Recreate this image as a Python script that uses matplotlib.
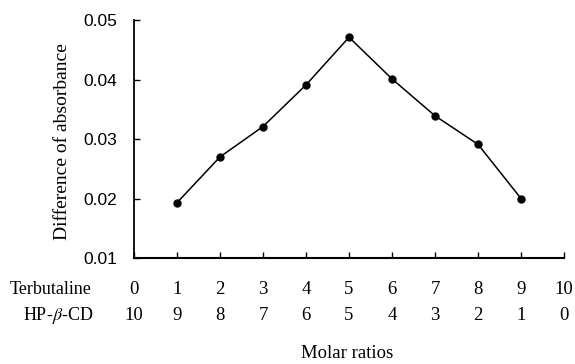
import matplotlib
matplotlib.use("Agg")
import matplotlib.pyplot as plt
import matplotlib.transforms as mtransforms

# data
terbutaline = [0, 1, 2, 3, 4, 5, 6, 7, 8, 9, 10]
hp_cd = [10, 9, 8, 7, 6, 5, 4, 3, 2, 1, 0]
x_pts = [1, 2, 3, 4, 5, 6, 7, 8, 9]
absorb_diff = [0.0193, 0.0270, 0.0321, 0.0391, 0.0471, 0.0401, 0.0339, 0.0291, 0.0200]
y_ticks = [0.01, 0.02, 0.03, 0.04, 0.05]

fig = plt.figure(figsize=(5.75, 3.64), dpi=100)
ax = fig.add_axes([0.233, 0.291, 0.748, 0.654])

ax.plot(x_pts, absorb_diff, color='black', linewidth=1.1, marker='o', markersize=5)

ax.set_xlim(0, 10)
ax.set_ylim(0.01, 0.05)
ax.set_yticks(y_ticks)
ax.set_yticklabels(['%.2f' % v for v in y_ticks], fontsize=12.5, family='Liberation Sans')
ax.set_xticks(terbutaline)
ax.set_xticklabels([])
ax.tick_params(direction='in', length=4, width=1, colors='black')
ax.tick_params(axis='y', pad=12)
ax.spines['top'].set_visible(False)
ax.spines['right'].set_visible(False)
ax.spines['left'].set_linewidth(1.3)
ax.spines['bottom'].set_linewidth(1.5)

ax.set_ylabel('Difference of absorbance', family='Liberation Serif', fontsize=14)
ax.yaxis.set_label_coords(71 / 575, 1 - 142 / 364, transform=fig.transFigure)

# two rows of ratio labels under the axis
trans = mtransforms.blended_transform_factory(ax.transData, fig.transFigure)
for t, h in zip(terbutaline, hp_cd):
    ax.text(t, 1 - 289 / 364, str(t), transform=trans, ha='center', va='center',
            family='Liberation Serif', fontsize=13.5)
    ax.text(t, 1 - 316 / 364, str(h), transform=trans, ha='center', va='center',
            family='Liberation Serif', fontsize=13.5)

fig.text(92 / 575, 1 - 289 / 364, 'Terbutaline', ha='right', va='center',
         family='Liberation Serif', fontsize=13)
fig.text(93 / 575, 1 - 316 / 364, r'HP-$\beta$-CD', ha='right', va='center',
         family='Liberation Serif', fontsize=13, math_fontfamily='stix')
fig.text(347 / 575, 1 - 353 / 364, 'Molar ratios', ha='center', va='center',
         family='Liberation Serif', fontsize=13.5)

fig.savefig('out.png', dpi=100)
